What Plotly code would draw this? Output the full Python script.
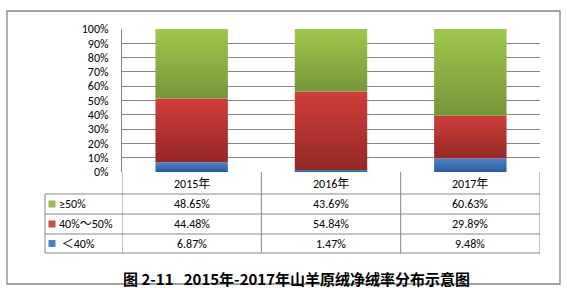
import plotly.graph_objects as go

years = ["2015年", "2016年", "2017年"]
series_names = ["≥50%", "40%～50%", "＜40%"]
ge50 = [48.65, 43.69, 60.63]
mid40_50 = [44.48, 54.84, 29.89]
lt40 = [6.87, 1.47, 9.48]
y_ticks = list(range(0, 101, 10))
title_text = "图 2-11   2015年-2017年山羊原绒净绒率分布示意图"

W, H = 567, 288
L, R, T, B = 122, 540, 29, 172  # plot area in pixels


def px(xp):
    return (xp - L) / (R - L)


def py(yp):
    return (B - yp) / (B - T)


FONT = "Calibri, Carlito, 'Noto Sans', 'Noto Sans CJK SC', sans-serif"
GRAY = "#868686"

grads = {
    "lt40": [[0, "#2D5C9C"], [1, "#4B82CB"]],
    "mid": [[0, "#932826"], [1, "#D03E3B"]],
    "ge50": [[0, "#76963A"], [1, "#9FC74D"]],
}
solid = {"ge50": "#9BBB59", "mid": "#C0504D", "lt40": "#4F81BD"}

fig = go.Figure()
bw = 0.52
stack = [("lt40", lt40), ("mid", mid40_50), ("ge50", ge50)]
for i in range(len(years)):
    base = 0.0
    for key, vals in stack:
        v = vals[i]
        top = base + v
        xs = [i - bw / 2, i + bw / 2, i + bw / 2, i - bw / 2, i - bw / 2]
        ys = [base, base, top, top, base]
        fig.add_trace(go.Scatter(
            x=xs, y=ys, mode="lines", fill="toself",
            line=dict(width=0, color=solid[key]),
            fillgradient=dict(type="vertical", colorscale=grads[key]),
            hoverinfo="skip", showlegend=False,
        ))
        base = top

shapes = []
annotations = []

# outer border
shapes.append(dict(type="rect", xref="paper", yref="paper",
                   x0=px(7), x1=px(560), y0=py(284), y1=py(11),
                   line=dict(color=GRAY, width=1.3), layer="below"))

# table lines
row_lines = [194, 214, 234, 253]
for yl in row_lines:
    shapes.append(dict(type="line", xref="paper", yref="paper",
                       x0=px(45), x1=1, y0=py(yl), y1=py(yl),
                       line=dict(color=GRAY, width=1)))
for xv in [-0.5, 0.5, 1.5, 2.5]:
    shapes.append(dict(type="line", xref="x", yref="paper",
                       x0=xv, x1=xv, y0=py(253), y1=0,
                       line=dict(color=GRAY, width=1)))
shapes.append(dict(type="line", xref="paper", yref="paper",
                   x0=px(45), x1=px(45), y0=py(253), y1=py(194),
                   line=dict(color=GRAY, width=1)))

cell_font = dict(family=FONT, size=12, color="#000000")

# header
for i, yr in enumerate(years):
    annotations.append(dict(x=i, y=py(183.5), xref="x", yref="paper",
                            xanchor="center", yanchor="middle",
                            text=yr, showarrow=False, font=cell_font))

rows = [("ge50", series_names[0], ge50),
        ("mid", series_names[1], mid40_50),
        ("lt40", series_names[2], lt40)]
row_centers = [204, 224, 243.5]
for (key, name, vals), yc in zip(rows, row_centers):
    shapes.append(dict(type="rect", xref="paper", yref="paper",
                       x0=px(48.5), x1=px(55.5), y0=py(yc + 3.5), y1=py(yc - 3.5),
                       fillcolor=solid[key], line=dict(width=0)))
    label = name if key != "lt40" else " " + name
    annotations.append(dict(x=px(57), y=py(yc), xref="paper", yref="paper",
                            text=label, showarrow=False,
                            xanchor="left", yanchor="middle", font=cell_font))
    for i, v in enumerate(vals):
        annotations.append(dict(x=i, y=py(yc), xref="x", yref="paper",
                                xanchor="center", yanchor="middle",
                                text=f"{v:.2f}%", showarrow=False, font=cell_font))

annotations.append(dict(x=px(296), y=py(278), xref="paper", yref="paper",
                        xanchor="center", yanchor="middle",
                        text="<b>" + title_text + "</b>", showarrow=False,
                        font=dict(family="'Noto Sans CJK SC', sans-serif", size=15,
                                  color="#000000")))

fig.update_layout(
    width=W, height=H,
    margin=dict(l=L, r=W - R, t=T, b=H - B, pad=0),
    paper_bgcolor="white", plot_bgcolor="white",
    showlegend=False,
    xaxis=dict(range=[-0.5, 2.5], showticklabels=False, showgrid=False,
               zeroline=False, showline=False, fixedrange=True),
    yaxis=dict(range=[0, 100], tickvals=y_ticks,
               ticktext=[f"{t}%" for t in y_ticks],
               showgrid=True, gridcolor=GRAY, gridwidth=1,
               zeroline=False, showline=True, linecolor=GRAY, linewidth=1,
               ticks="", ticklabelstandoff=10,
               tickfont=dict(family=FONT, size=12, color="#000000"),
               fixedrange=True),
    shapes=shapes, annotations=annotations,
)

fig.write_html("out.html")
